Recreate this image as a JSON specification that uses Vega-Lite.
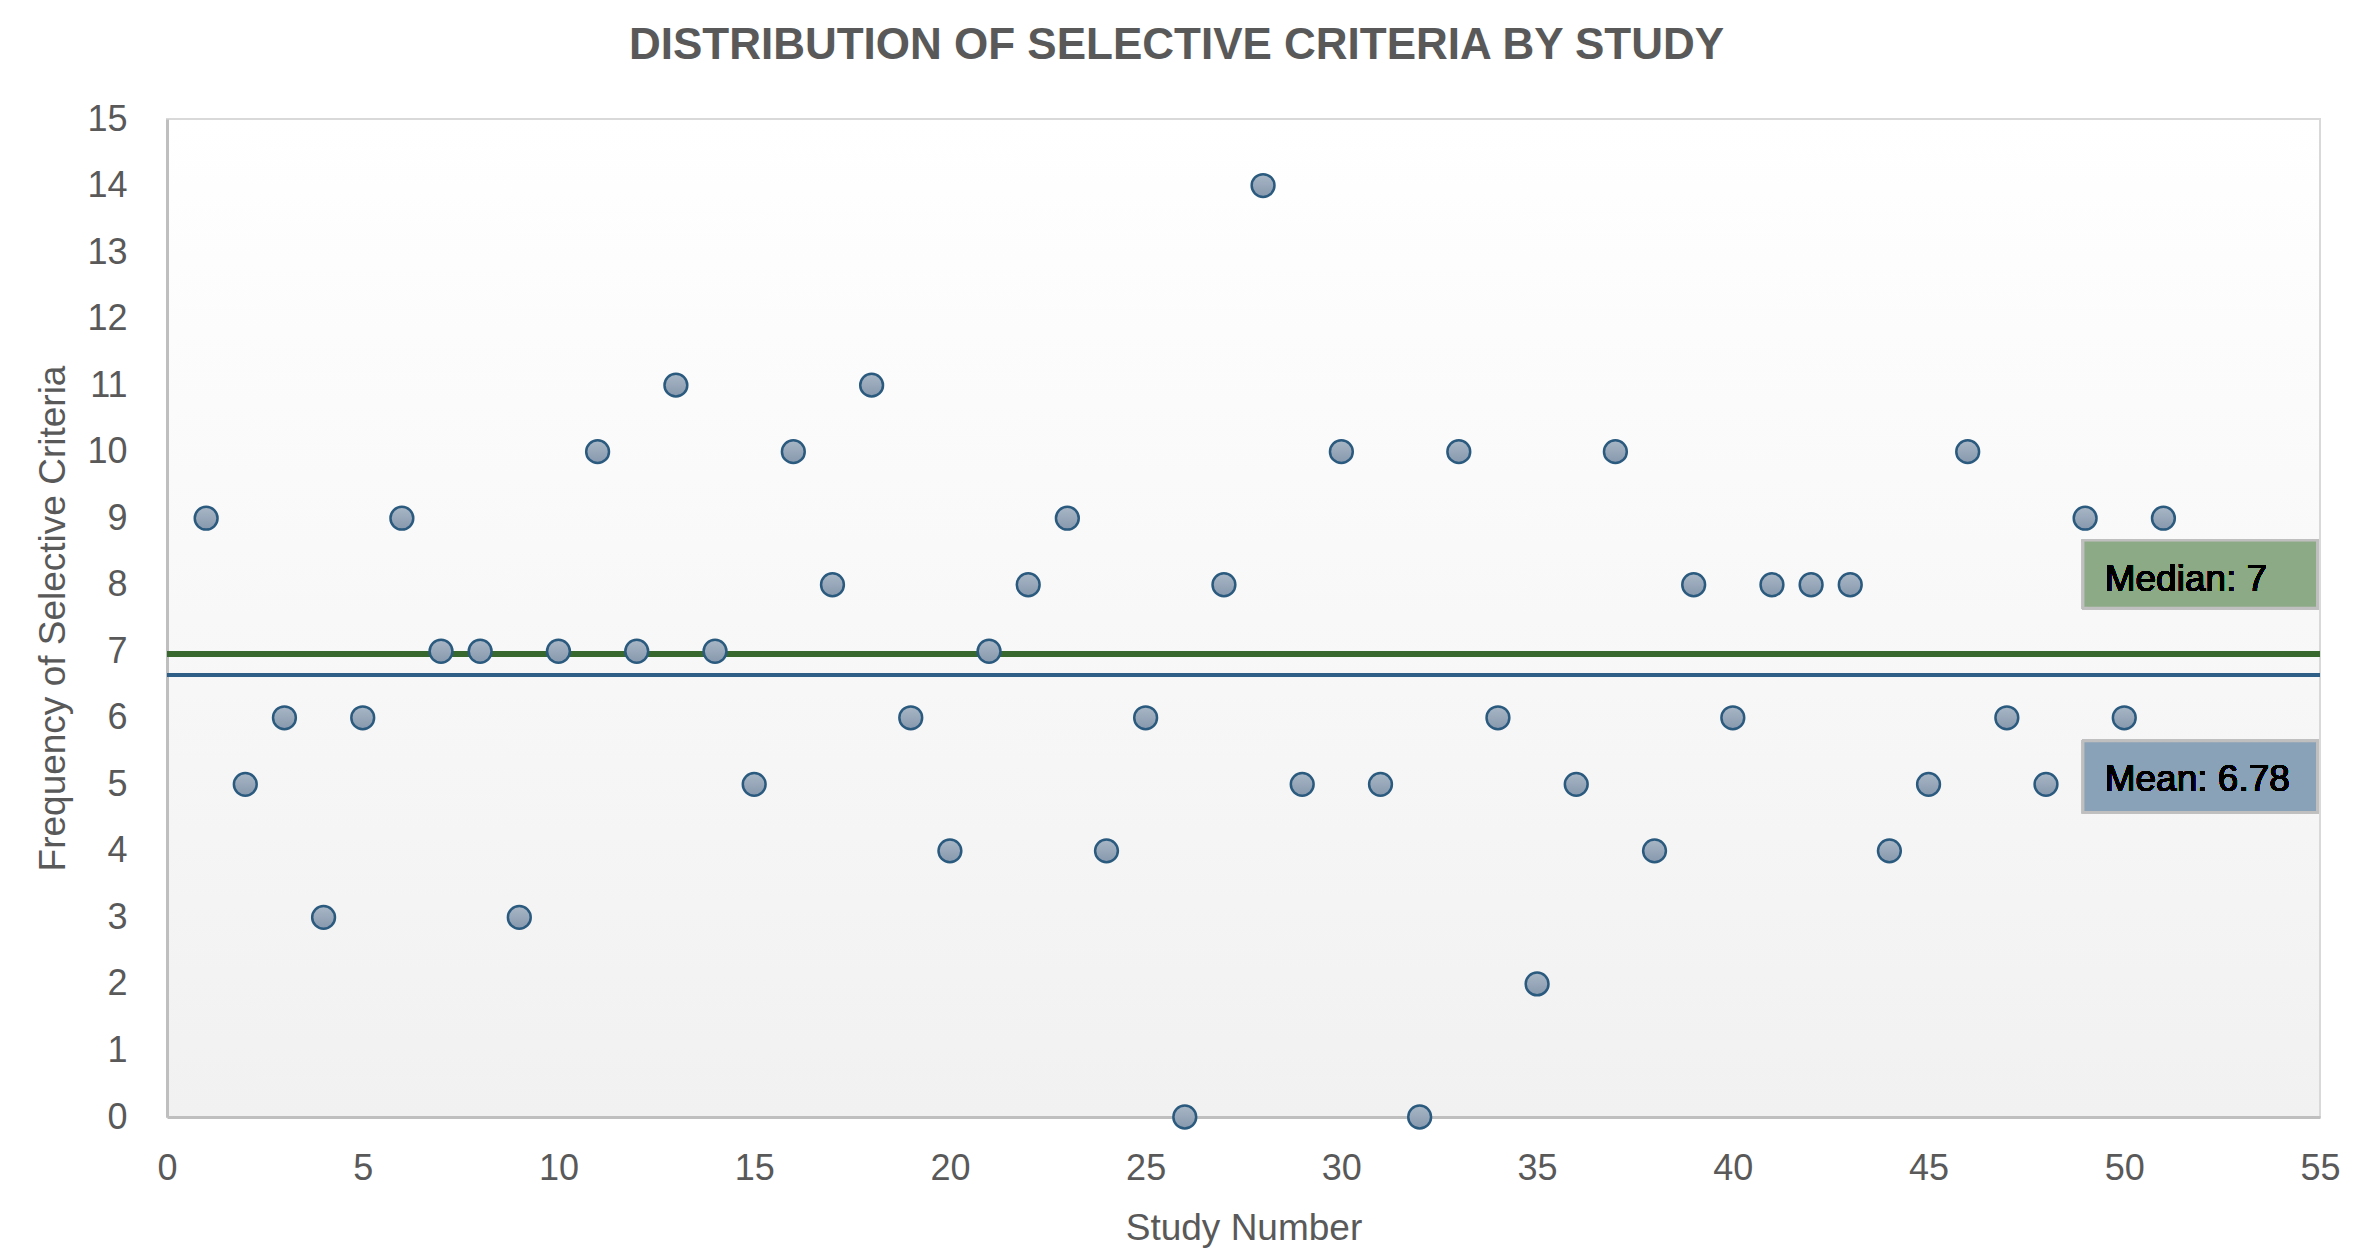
{
  "$schema": "https://vega.github.io/schema/vega-lite/v6.json",
  "width": 2153,
  "height": 998,
  "autosize": {"type": "none"},
  "padding": {"left": 167, "top": 119, "right": 36, "bottom": 143},
  "background": "#ffffff",
  "title": {
    "text": "DISTRIBUTION OF SELECTIVE CRITERIA BY STUDY",
    "font": "Liberation Sans",
    "fontWeight": "bold",
    "fontSize": 44,
    "color": "#595959",
    "anchor": "middle",
    "frame": "group",
    "dx": -67,
    "baseline": "alphabetic",
    "offset": -2
  },
  "config": {
    "view": {
      "stroke": "#d9d9d9",
      "strokeWidth": 2,
      "fill": {"gradient": "linear", "x1": 0, "y1": 0, "x2": 0, "y2": 1,
        "stops": [{"offset": 0, "color": "#ffffff"}, {"offset": 1, "color": "#f1f1f1"}]}
    },
    "axis": {
      "labelFont": "Liberation Sans",
      "labelFontSize": 36,
      "labelColor": "#595959",
      "titleFont": "Liberation Sans",
      "titleFontSize": 37,
      "titleFontWeight": "normal",
      "titleColor": "#595959",
      "gridColor": "#d9d9d9",
      "gridWidth": 2,
      "domainColor": "#bfbfbf",
      "domainWidth": 3,
      "ticks": false
    }
  },
  "data": {
    "values": [
      {"study": 1, "count": 9}, {"study": 2, "count": 5}, {"study": 3, "count": 6},
      {"study": 4, "count": 3}, {"study": 5, "count": 6}, {"study": 6, "count": 9},
      {"study": 7, "count": 7}, {"study": 8, "count": 7}, {"study": 9, "count": 3},
      {"study": 10, "count": 7}, {"study": 11, "count": 10}, {"study": 12, "count": 7},
      {"study": 13, "count": 11}, {"study": 14, "count": 7}, {"study": 15, "count": 5},
      {"study": 16, "count": 10}, {"study": 17, "count": 8}, {"study": 18, "count": 11},
      {"study": 19, "count": 6}, {"study": 20, "count": 4}, {"study": 21, "count": 7},
      {"study": 22, "count": 8}, {"study": 23, "count": 9}, {"study": 24, "count": 4},
      {"study": 25, "count": 6}, {"study": 26, "count": 0}, {"study": 27, "count": 8},
      {"study": 28, "count": 14}, {"study": 29, "count": 5}, {"study": 30, "count": 10},
      {"study": 31, "count": 5}, {"study": 32, "count": 0}, {"study": 33, "count": 10},
      {"study": 34, "count": 6}, {"study": 35, "count": 2}, {"study": 36, "count": 5},
      {"study": 37, "count": 10}, {"study": 38, "count": 4}, {"study": 39, "count": 8},
      {"study": 40, "count": 6}, {"study": 41, "count": 8}, {"study": 42, "count": 8},
      {"study": 43, "count": 8}, {"study": 44, "count": 4}, {"study": 45, "count": 5},
      {"study": 46, "count": 10}, {"study": 47, "count": 6}, {"study": 48, "count": 5},
      {"study": 49, "count": 9}, {"study": 50, "count": 6}, {"study": 51, "count": 9}
    ]
  },
  "layer": [
    {
      "mark": {"type": "rule", "color": "#38682d", "strokeWidth": 6},
      "encoding": {
        "x": {"datum": 0, "type": "quantitative"},
        "x2": {"datum": 55},
        "y": {"datum": 6.96, "type": "quantitative"}
      }
    },
    {
      "mark": {"type": "rule", "color": "#2f5f86", "strokeWidth": 3.5},
      "encoding": {
        "x": {"datum": 0, "type": "quantitative"},
        "x2": {"datum": 55},
        "y": {"datum": 6.64, "type": "quantitative"}
      }
    },
    {
      "mark": {
        "type": "point",
        "shape": "circle",
        "filled": true,
        "size": 520,
        "opacity": 1,
        "fill": {"gradient": "linear", "x1": 0, "y1": 0, "x2": 0, "y2": 1,
          "stops": [{"offset": 0, "color": "#a9b7c6"}, {"offset": 1, "color": "#8798ad"}]},
        "stroke": "#2b5a7f",
        "strokeWidth": 2.5
      },
      "encoding": {
        "x": {
          "field": "study", "type": "quantitative",
          "scale": {"domain": [0, 55], "nice": false, "zero": false},
          "axis": {"values": [0, 5, 10, 15, 20, 25, 30, 35, 40, 45, 50, 55], "format": "d", "title": "Study Number", "labelPadding": 34, "titlePadding": 24, "labelFlush": false}
        },
        "y": {
          "field": "count", "type": "quantitative",
          "scale": {"domain": [0, 15], "nice": false},
          "axis": {"values": [0, 1, 2, 3, 4, 5, 6, 7, 8, 9, 10, 11, 12, 13, 14, 15], "format": "d", "title": "Frequency of Selective Criteria", "labelPadding": 40, "titlePadding": 14}
        }
      }
    },
    {
      "mark": {"type": "rect", "fill": "#8daa87", "fillOpacity": 0.9, "stroke": "#bfbfbf", "strokeWidth": 2.5},
      "encoding": {
        "x": {"datum": 48.95, "type": "quantitative"},
        "x2": {"datum": 54.93},
        "y": {"datum": 8.67, "type": "quantitative"},
        "y2": {"datum": 7.65}
      }
    },
    {
      "mark": {"type": "rect", "fill": "#89a2b7", "fillOpacity": 0.9, "stroke": "#bfbfbf", "strokeWidth": 2.5},
      "encoding": {
        "x": {"datum": 48.95, "type": "quantitative"},
        "x2": {"datum": 54.93},
        "y": {"datum": 5.65, "type": "quantitative"},
        "y2": {"datum": 4.58}
      }
    },
    {
      "mark": {"type": "text", "text": "Median: 7", "font": "Liberation Sans", "fontSize": 37, "color": "#000000", "align": "left", "baseline": "alphabetic"},
      "encoding": {
        "x": {"datum": 49.5, "type": "quantitative"},
        "y": {"datum": 7.91, "type": "quantitative"}
      }
    },
    {
      "mark": {"type": "text", "text": "Mean: 6.78", "font": "Liberation Sans", "fontSize": 37, "color": "#000000", "align": "left", "baseline": "alphabetic"},
      "encoding": {
        "x": {"datum": 49.5, "type": "quantitative"},
        "y": {"datum": 4.90, "type": "quantitative"}
      }
    }
  ]
}
